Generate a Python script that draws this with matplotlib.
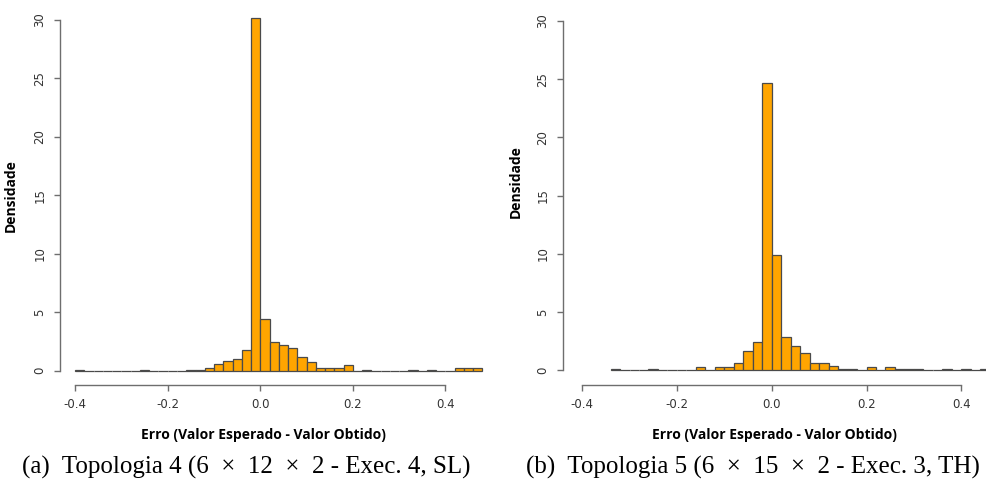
import numpy as np
import matplotlib
matplotlib.use("Agg")
import matplotlib.pyplot as plt

largura = 0.02
inicio_a = -0.40
dens_a = [0.1, 0, 0, 0, 0, 0, 0, 0.1, 0, 0,
          0, 0, 0.1, 0.1, 0.2, 0.57, 0.83, 1.03, 1.77, 30.2,
          4.42, 2.48, 2.23, 1.94, 1.14, 0.71, 0.2, 0.26, 0.2, 0.46,
          0, 0.1, 0, 0, 0, 0, 0.1, 0, 0.1, 0,
          0, 0.23, 0.2, 0.26]
inicio_b = -0.34
dens_b = [0.1, 0, 0, 0, 0.1, 0, 0, 0, 0, 0.3,
          0, 0.3, 0.3, 0.63, 1.69, 2.43, 24.7, 9.9, 2.89, 2.11,
          1.46, 0.6, 0.6, 0.34, 0.1, 0.1, 0, 0.29, 0, 0.3,
          0.1, 0.1, 0.1, 0, 0, 0.1, 0, 0.1, 0, 0.1,
          0, 0]

xticks = [-0.4, -0.2, 0.0, 0.2, 0.4]
xticklabels = ["-0.4", "-0.2", "0.0", "0.2", "0.4"]
yticks = [0, 5, 10, 15, 20, 25, 30]

xlabel = "Erro (Valor Esperado - Valor Obtido)"
ylabel = "Densidade"
# espaço extra em volta do \u00d7, como no modo matemático
legendas = ["(a)  Topologia 4 (6  \u00d7  12  \u00d7  2 - Exec. 4, SL)",
            "(b)  Topologia 5 (6  \u00d7  15  \u00d7  2 - Exec. 3, TH)"]

W, H = 986, 487
fig = plt.figure(figsize=(W / 100, H / 100), dpi=100)

def px_ax(l, t, r, b):
    return [l / W, 1 - b / H, (r - l) / W, (b - t) / H]

eixo_cor = "#6e6e6e"

def histograma(ax, inicio, dens, xlim, ylim, ylab_xy, xlab_xy):
    bordas = np.round(inicio + largura * np.arange(len(dens)), 2)
    ax.bar(bordas, dens, width=largura, align="edge", color="#FFA500",
           edgecolor="#4a4a4a", linewidth=0.9)
    ax.set_xlim(*xlim)
    ax.set_ylim(*ylim)
    for s in ["top", "right"]:
        ax.spines[s].set_visible(False)
    ax.spines["left"].set_bounds(0, 30)
    ax.spines["bottom"].set_bounds(-0.4, 0.4)
    for s in ["left", "bottom"]:
        ax.spines[s].set_color(eixo_cor)
        ax.spines[s].set_linewidth(1.0)
    ax.set_xticks(xticks)
    ax.set_xticklabels(xticklabels)
    ax.set_yticks(yticks)
    ax.set_yticklabels([str(v) for v in yticks], rotation=90, va="center")
    ax.tick_params(direction="out", length=4.5, width=1.0, color=eixo_cor,
                   labelsize=8.5, labelcolor="#333333", pad=5)
    ax.set_ylabel(ylabel, fontsize=10, fontweight="bold", family="Open Sans")
    ax.set_xlabel(xlabel, fontsize=10, fontweight="bold", family="Open Sans")
    ax.yaxis.set_label_coords(*ylab_xy)
    ax.xaxis.set_label_coords(*xlab_xy)

ax1 = fig.add_axes(px_ax(59.5, 1.3, 498.5, 385))
histograma(ax1, inicio_a, dens_a, (-0.434, 0.515), (-1.22, 31.6),
           (-0.0945, 0.495), (0.4636, -0.112))

ax2 = fig.add_axes(px_ax(562.7, 7, 1023.4, 385))
histograma(ax2, inicio_b, dens_b, (-0.441, 0.531), (-1.25, 31.2),
           (-0.086, 0.537), (0.4587, -0.1138))

fig.text(246 / W, 1 - 467 / H, legendas[0], ha="center", va="center",
         family="Liberation Serif", fontsize=18)
fig.text(753 / W, 1 - 467 / H, legendas[1], ha="center", va="center",
         family="Liberation Serif", fontsize=18)

fig.savefig("out.png", dpi=100)
